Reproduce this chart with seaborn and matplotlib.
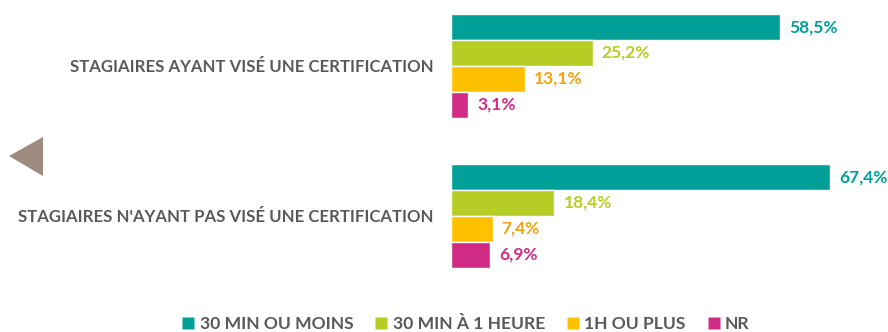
import matplotlib
matplotlib.use("Agg")
import matplotlib.pyplot as plt
from matplotlib.patches import Polygon
from matplotlib.lines import Line2D
import seaborn as sns
import pandas as pd

# Data
groups = ["STAGIAIRES AYANT VISÉ UNE CERTIFICATION",
          "STAGIAIRES N'AYANT PAS VISÉ UNE CERTIFICATION"]
durations = ["30 MIN OU MOINS", "30 MIN À 1 HEURE", "1H OU PLUS", "NR"]
with_cert = [58.5, 25.2, 13.1, 3.1]
without_cert = [67.4, 18.4, 7.4, 6.9]

bar_colors = ["#00A099", "#B5CD25", "#FFC000", "#D02C86"]
label_colors = ["#00A099", "#B5CD25", "#F5A20F", "#D02C86"]
text_grey = "#595959"

rows = []
for g, vals in zip(groups, [with_cert, without_cert]):
    for d, v in zip(durations, vals):
        rows.append({"groupe": g, "duree": d, "pct": v})
df = pd.DataFrame(rows)

sns.set_theme(style="white")
plt.rcParams["font.family"] = ["Lato", "DejaVu Sans"]

W, H = 888, 332
fig = plt.figure(figsize=(W / 100, H / 100), dpi=100)
x0 = 451
ax = fig.add_axes([x0 / W, 0, 1 - x0 / W, 1])

sns.barplot(data=df, y="groupe", x="pct", hue="duree", order=groups,
            hue_order=durations, palette=bar_colors, orient="h",
            width=0.693, saturation=1, legend=False, ax=ax)

px_per_pct = (780 - x0) / 58.5
ax.set_xlim(0, (W - x0) / px_per_pct)
ax.set_ylim(1 + (H - 216) / 150, -66 / 150)

for cont, col in zip(ax.containers, label_colors):
    labels = [f"{b.get_width():.1f}".replace(".", ",") + "%" for b in cont]
    ax.bar_label(cont, labels=labels, padding=6.5, color=col,
                 fontsize=12.5, fontweight="bold")

for s in ax.spines.values():
    s.set_visible(False)
ax.set_xticks([])
ax.set_xlabel("")
ax.set_ylabel("")
ax.tick_params(axis="y", length=0, pad=12.5)
for t in ax.get_yticklabels():
    t.set_fontsize(12.1)
    t.set_fontweight("bold")
    t.set_color(text_grey)

# Navigation arrow on the left
tri = Polygon([(9 / W, 1 - 156 / H), (43 / W, 1 - 137 / H), (43 / W, 1 - 176 / H)],
              closed=True, transform=fig.transFigure, facecolor="#9E8A7E",
              edgecolor="none")
fig.add_artist(tri)

handles = [Line2D([], [], marker="s", linestyle="none", markersize=8,
                  markerfacecolor=c, markeredgecolor="none") for c in bar_colors]
leg = fig.legend(handles, durations, loc="center", ncol=4,
                 bbox_to_anchor=(466 / W, 1 - 324 / H), frameon=False,
                 handlelength=0.7, handletextpad=0.3, columnspacing=1.25,
                 prop={"weight": "bold", "size": 12.6})
for t in leg.get_texts():
    t.set_color(text_grey)

fig.savefig("out.png", dpi=100)
